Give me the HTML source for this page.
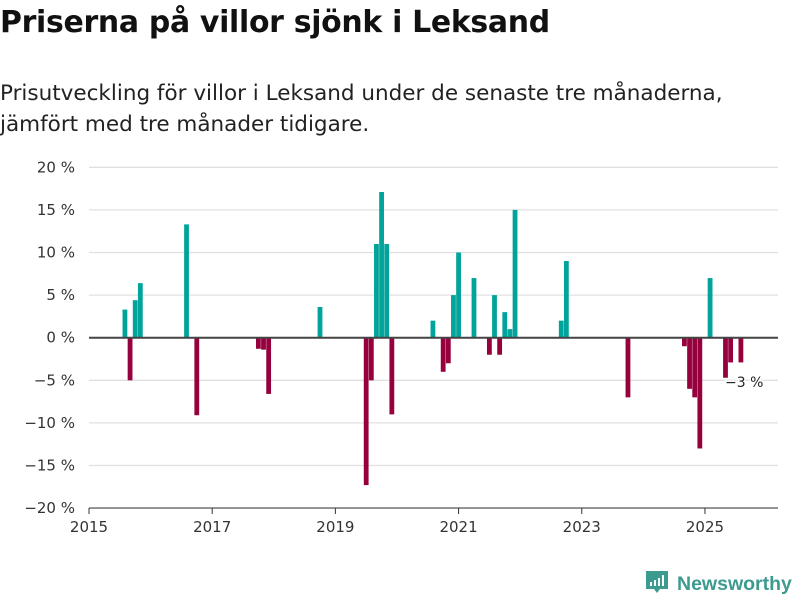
<!DOCTYPE html>
<html><head><meta charset="utf-8"><style>
body{margin:0;background:#fff;width:800px;height:600px;overflow:hidden;font-family:"DejaVu Sans","Liberation Sans",sans-serif;}
h1{position:absolute;left:0;top:5px;margin:0;font-size:29.9px;font-weight:bold;color:#111;letter-spacing:-0.3px}
p.sub{position:absolute;left:0;top:78px;margin:0;font-size:21.5px;line-height:31px;color:#222;letter-spacing:0px}
svg{position:absolute;left:0;top:0}
</style></head><body>
<h1>Priserna på villor sjönk i Leksand</h1>
<p class="sub">Prisutveckling för villor i Leksand under de senaste tre månaderna,<br>jämfört med tre månader tidigare.</p>
<svg id="chart" width="800" height="600"></svg>
<script>
// months since Jan 2015
const months=[7,8,9,10,19,21,33,34,35,45,54,55,56,57,58,59,67,69,70,71,72,75,78,79,80,81,82,83,92,93,105,116,117,118,119,121,124,125,127];
const values=[3.3,-5,4.4,6.4,13.3,-9.1,-1.3,-1.4,-6.6,3.6,-17.3,-5,11,17.1,11,-9,2,-4,-3,5,10,7,-2,5,-2,3,1,15,2,9,-7,-1,-6,-7,-13,7,-4.7,-2.9,-2.9];
const yTicks=[20,15,10,5,0,-5,-10,-15,-20];
const xTicks=[2015,2017,2019,2021,2023,2025];
const NS="http://www.w3.org/2000/svg";
const svg=document.getElementById('chart');
const y=v=>337.7-v*8.52;
const x=m=>89+m*5.133;
function mk(t,a){const e=document.createElementNS(NS,t);for(const k in a)e.setAttribute(k,a[k]);svg.appendChild(e);return e;}
yTicks.forEach(t=>{
  if(t!==0){const g=mk('line',{x1:89,x2:778,y1:y(t),y2:y(t),stroke:'#e0e0e0','stroke-width':1.3});
  
  }
  const l=mk('text',{x:75,y:y(t)+5,'text-anchor':'end','font-size':15,fill:'#333','font-family':'DejaVu Sans, Liberation Sans, sans-serif'});
  l.textContent=(t<0?'\u2212'+(-t):t)+' %';
  
  
});
xTicks.forEach(t=>{
  const xx=x((t-2015)*12);
  const tk=mk('line',{x1:xx,x2:xx,y1:508,y2:514,stroke:'#333','stroke-width':1});
  
  
  const l=mk('text',{x:xx,y:532,'text-anchor':'middle','font-size':15,fill:'#333','font-family':'DejaVu Sans, Liberation Sans, sans-serif'});
  l.textContent=t;
  
  
});
const xa=mk('line',{x1:89,x2:778,y1:508,y2:508,stroke:'#333','stroke-width':1});


months.forEach((m,i)=>{
  const v=values[i];const cx=x(m);
  const b=mk('rect',{x:cx-2.4,width:4.8,y:Math.min(y(v),y(0)),height:Math.abs(y(v)-y(0)),fill:v>=0?'#00a49a':'#96003c'});
  
  
});
const z=mk('line',{x1:89,x2:778,y1:y(0),y2:y(0),stroke:'#444','stroke-width':2});


const lastV=values[values.length-1];
const lab=mk('text',{x:725,y:387,'font-size':14,fill:'#222','font-family':'DejaVu Sans, Liberation Sans, sans-serif',stroke:'#fff','stroke-width':3,'paint-order':'stroke'});
lab.textContent='\u2212'+Math.round(-lastV)+' %';


</script>
<svg width="800" height="600" style="position:absolute;left:0;top:0">
<path d="M646 571h22v18h-8l-3 4-3-4h-8z" fill="#3c9a8f"/>
<rect x="650" y="582" width="2" height="4" fill="#fff"/><rect x="654" y="580" width="2" height="6" fill="#fff"/><rect x="658" y="578" width="2" height="8" fill="#fff"/><rect x="662" y="575" width="2" height="11" fill="#fff"/>
<text x="677" y="590" font-size="19.5" font-weight="bold" fill="#3c9a8f" font-family="Liberation Sans, sans-serif">Newsworthy</text>
</svg>
</body></html>
